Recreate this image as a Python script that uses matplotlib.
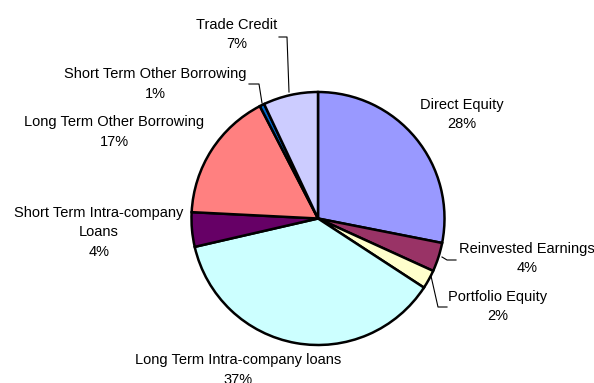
import matplotlib.pyplot as plt

plt.rcParams['font.family'] = ['Liberation Sans', 'DejaVu Sans']

# Shares of the inflow by component (percent)
categories = ['Direct Equity', 'Reinvested Earnings', 'Portfolio Equity',
              'Long Term Intra-company loans', 'Short Term Intra-company\nLoans',
              'Long Term Other Borrowing', 'Short Term Other Borrowing', 'Trade Credit']
shares = [28.1, 3.7, 2.4, 37.2, 4.4, 16.6, 0.6, 7.0]
colors = ['#9999FF', '#993366', '#FFFFCC', '#CCFFFF', '#660066',
          '#FF8080', '#0066CC', '#CCCCFF']

W, H = 594, 383
fig = plt.figure(figsize=(W / 100, H / 100), dpi=100)
ax = fig.add_axes([0, 0, 1, 1])

cx, cy, r = 318, H - 218.5, 126.5
ax.pie(shares, colors=colors, startangle=90, counterclock=False,
       center=(cx, cy), radius=r, frame=True,
       wedgeprops=dict(edgecolor='black', linewidth=1.8))
ax.set_xlim(0, W)
ax.set_ylim(0, H)
ax.set_aspect('equal')
ax.axis('off')

# label centres (first line) and leader lines, pixels from the top-left
label_pos = [(462, 105), (527, 249), (498, 297), (238, 360),
             (99, 213), (114, 122), (155, 74), (237, 25)]
line_step = 19.5
leaders = {
    1: [(442, 257), (447, 260), (456, 260)],
    2: [(431, 276), (438, 307), (447, 307)],
    6: [(249, 84), (259, 84), (262, 103)],
    7: [(279, 37), (287, 37), (289, 92)],
}

for i, (name, val) in enumerate(zip(categories, shares)):
    px, py = label_pos[i]
    lines = name.split('\n') + [f'{round(val)}%']
    for k, line in enumerate(lines):
        ax.text(px, H - (py + k * line_step), line, ha='center', va='center',
                fontsize=10.5, color='black', clip_on=False)

for i, pts in leaders.items():
    xs = [p[0] for p in pts]
    ys = [H - p[1] for p in pts]
    ax.plot(xs, ys, color='black', linewidth=0.8)

fig.savefig('out.png', dpi=100)
